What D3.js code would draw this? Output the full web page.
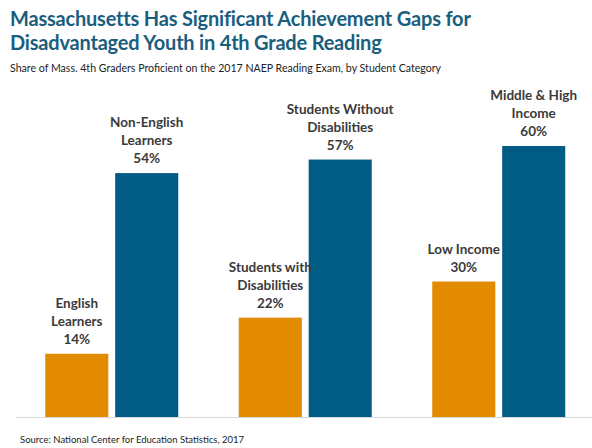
<!DOCTYPE html>
<html>
<head>
<meta charset="utf-8">
<script src="https://cdn.jsdelivr.net/npm/d3@7"></script>
<style>
  html, body { margin: 0; padding: 0; background: #fff; }
  svg { display: block; }
  text { font-family: Lato, "Open Sans", sans-serif; }
</style>
</head>
<body>
<svg id="chart" width="592" height="448"></svg>
<script>
const categories = ["English Learners", "Non-English Learners", "Students with Disabilities",
                    "Students Without Disabilities", "Low Income", "Middle & High Income"];
const labelLines = [["English", "Learners"], ["Non-English", "Learners"], ["Students with", "Disabilities"],
                    ["Students Without", "Disabilities"], ["Low Income"], ["Middle & High", "Income"]];
const groups = ["English Learner Status", "Disability Status", "Income Status"];
const groupOf = [0, 0, 1, 1, 2, 2];
const subgroup = ["disadvantaged", "advantaged", "disadvantaged", "advantaged", "disadvantaged", "advantaged"];
const values = [14, 54, 22, 57, 30, 60];

const title = ["Massachusetts Has Significant Achievement Gaps for", "Disadvantaged Youth in 4th Grade Reading"];
const subtitle = "Share of Mass. 4th Graders Proficient on the 2017 NAEP Reading Exam, by Student Category";
const source = "Source: National Center for Education Statistics, 2017";

const svg = d3.select("#chart");
const colors = { disadvantaged: "#E38B00", advantaged: "#005B85" };

// Titles
svg.append("g").selectAll("text").data(title).join("text")
  .attr("x", 10).attr("y", (d, i) => 26 + i * 24)
  .attr("fill", "#1A5E7E").attr("font-weight", 700).attr("font-size", 20)
  .attr("letter-spacing", -0.2)
  .text(d => d);
svg.append("text").attr("x", 10).attr("y", 72)
  .attr("fill", "#222").attr("font-size", 10.6).text(subtitle);
svg.append("text").attr("x", 20).attr("y", 443)
  .attr("fill", "#222").attr("font-size", 9.5).text(source);

// Scales
const x0 = d3.scaleBand().domain(groups).range([15, 595.5]).paddingInner(0).paddingOuter(0);
const x1 = d3.scaleBand().domain(["disadvantaged", "advantaged"])
  .range([30.25, x0.bandwidth() - 30.25]).paddingInner(0.098);
const y = d3.scaleLinear().domain([0, 60]).range([417, 146]);

// Bars
const data = categories.map((c, i) => ({ c, v: values[i], g: groups[groupOf[i]], s: subgroup[i], lines: labelLines[i] }));
svg.append("g").selectAll("rect").data(data).join("rect")
  .attr("x", d => x0(d.g) + x1(d.s))
  .attr("width", x1.bandwidth())
  .attr("y", d => y(d.v))
  .attr("height", d => y(0) - y(d.v))
  .attr("fill", d => colors[d.s]);

// Axis line
const xAxis = d3.axisBottom(x0).tickSize(0).tickFormat("");
const ax = svg.append("g").attr("transform", `translate(0,${y(0)})`).call(xAxis);
ax.select(".domain").attr("stroke", "#D9D9D9").attr("stroke-width", 1);

// Labels
const lg = svg.append("g").selectAll("text").data(data).join("text")
  .attr("text-anchor", "middle")
  .attr("fill", "#3A3A3A").attr("font-weight", 700).attr("font-size", 13.5);
lg.each(function (d) {
  const cx = x0(d.g) + x1(d.s) + x1.bandwidth() / 2;
  const lines = d.lines.concat([d.v + "%"]);
  const n = lines.length;
  d3.select(this).selectAll("tspan").data(lines).join("tspan")
    .attr("x", cx)
    .attr("y", (t, k) => y(d.v) - 10 - (n - 1 - k) * 18)
    .text(t => t);
});
</script>
</body>
</html>
